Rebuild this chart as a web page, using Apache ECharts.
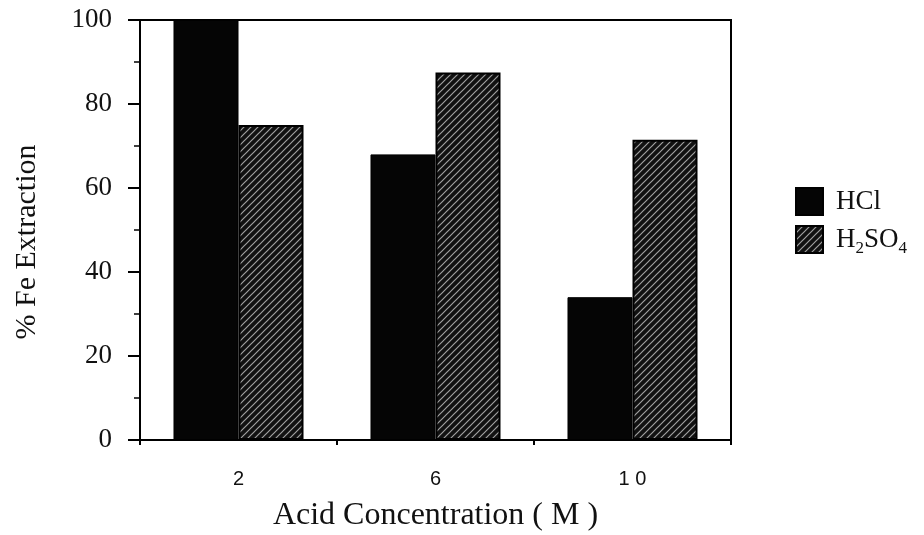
<!DOCTYPE html>
<html>
<head>
<meta charset="utf-8">
<script src="https://cdn.jsdelivr.net/npm/echarts@6/dist/echarts.min.js"></script>
<style>
  html, body { margin: 0; padding: 0; background: #fff; }
  #chart { width: 924px; height: 535px; }
</style>
</head>
<body>
<div id="chart"></div>
<script>
// Acid concentration (M) and iron extraction (%) for each acid
const concentrations = ['2', '6', '10'];
const hclValues = [100, 68, 34];
const h2so4Values = [75, 87.5, 71.5];
const yTicks = [0, 20, 40, 60, 80, 100];

// Diagonal hatch tile for the sulphuric acid bars
function hatchPattern() {
  const s = 7;
  const c = document.createElement('canvas');
  c.width = s; c.height = s;
  const g = c.getContext('2d');
  g.fillStyle = '#111';
  g.fillRect(0, 0, s, s);
  g.strokeStyle = '#a0a0a0';
  g.lineWidth = 1.2;
  g.beginPath();
  g.moveTo(-1, s + 1); g.lineTo(s + 1, -1);
  g.moveTo(-1, 1); g.lineTo(1, -1);
  g.moveTo(s - 1, s + 1); g.lineTo(s + 1, s - 1);
  g.stroke();
  return { image: c, repeat: 'repeat' };
}

const serif = '"Liberation Serif", "Times New Roman", serif';
const sans = '"Liberation Sans", Arial, sans-serif';

const chart = echarts.init(document.getElementById('chart'), null, { renderer: 'canvas' });
chart.setOption({
  animation: false,
  backgroundColor: '#fff',
  grid: {
    left: 140, top: 20, width: 591, height: 420,
    outerBoundsMode: 'none',
    containLabel: false,
    show: true, borderColor: '#000', borderWidth: 2, backgroundColor: 'transparent'
  },
  legend: {
    left: 790, top: 182,
    orient: 'vertical',
    itemWidth: 27, itemHeight: 27, itemGap: 9,
    icon: 'rect',
    textStyle: {
      fontFamily: serif, fontSize: 27, color: '#111', padding: [0, 0, 0, 8],
      rich: {
        n: { fontFamily: serif, fontSize: 27, color: '#111' },
        sub: { fontFamily: serif, fontSize: 17, color: '#111', verticalAlign: 'bottom', padding: [18, 0, 0, 0] }
      }
    },
    formatter: function (name) {
      return name === 'H2SO4' ? '{n|H}{sub|2}{n|SO}{sub|4}' : '{n|' + name + '}';
    }
  },
  xAxis: {
    type: 'category',
    data: concentrations,
    name: 'Acid Concentration ( M )',
    nameLocation: 'middle',
    nameGap: 60,
    nameTextStyle: { fontFamily: serif, fontSize: 32, color: '#111' },
    axisLine: { lineStyle: { color: '#000', width: 2 } },
    axisTick: { show: true, length: 5, lineStyle: { color: '#000', width: 2 } },
    axisLabel: {
      margin: 29, fontFamily: sans, fontSize: 20, color: '#111',
      formatter: function (v) { return v.split('').join(' '); }
    }
  },
  yAxis: {
    type: 'value',
    min: 0, max: 100, interval: 20,
    name: '% Fe Extraction',
    nameLocation: 'middle',
    nameGap: 98,
    nameTextStyle: { fontFamily: serif, fontSize: 30, color: '#111', padding: [0, 24, 0, 0] },
    axisLine: { show: true, lineStyle: { color: '#000', width: 2 } },
    axisTick: { show: true, length: 12, lineStyle: { color: '#000', width: 2 } },
    minorTick: { show: true, splitNumber: 2, length: 6, lineStyle: { color: '#000', width: 1.5 } },
    splitLine: { show: false },
    axisLabel: {
      margin: 28, fontFamily: serif, fontSize: 27, color: '#111',
      formatter: function (v) { return yTicks.indexOf(v) >= 0 ? String(v) : ''; }
    }
  },
  series: [
    {
      name: 'HCl',
      type: 'bar',
      data: hclValues,
      barGap: '0%',
      barCategoryGap: '34%',
      itemStyle: { color: '#050505', borderColor: '#000', borderWidth: 1 }
    },
    {
      name: 'H2SO4',
      type: 'bar',
      data: h2so4Values,
      itemStyle: { color: hatchPattern(), borderColor: '#000', borderWidth: 2 }
    }
  ]
});
</script>
</body>
</html>
